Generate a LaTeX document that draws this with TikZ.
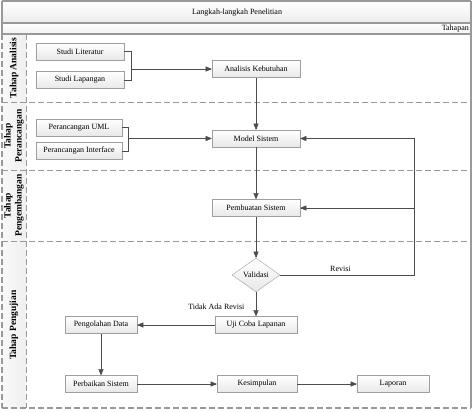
\documentclass[tikz,border=0pt]{standalone}
\usepackage{fontspec}
\setmainfont{Liberation Serif}
\usetikzlibrary{arrows}
\usetikzlibrary{shapes.geometric, positioning, calc}

\tikzset{
  stepbox/.style={rectangle, draw=gray!75, top color=white, bottom color=gray!18,
    minimum height=17pt, inner sep=1pt, font=\fontsize{8}{9}\selectfont},
  decisionbox/.style={diamond, draw=gray!75, top color=white, bottom color=gray!18,
    aspect=1.4, minimum width=48pt, minimum height=34pt, inner sep=0pt, font=\fontsize{8}{9}\selectfont},
  lanelabel/.style={rotate=90, align=center, font=\bfseries\fontsize{9.5}{11}\selectfont},
  flow/.style={draw=black!70, -triangle 45},
  lanesep/.style={draw=gray!80, dashed, dash pattern=on 6pt off 3pt, line width=0.8pt},
  smalltext/.style={font=\fontsize{8}{9}\selectfont}
}

\begin{document}
\begin{tikzpicture}[x=1pt, y=-1pt]
      \useasboundingbox (0, 0) rectangle (474, 412);

      % frame and header
      \fill[left color=gray!5, right color=gray!12] (2, 34) rectangle (26, 408);
      \shade[top color=white, bottom color=gray!15] (2, 1) rectangle (471, 23);
      \shade[top color=white, bottom color=gray!10] (2, 23) rectangle (471, 34);
      \draw[gray!80, line width=1.2pt] (2, 1) -- (471, 1);
      \draw[gray!80, line width=1.2pt] (2, 23) -- (471, 23);
      \draw[gray!80, line width=1.2pt] (2, 34) -- (471, 34);
      \draw[gray!80, line width=1.2pt] (471, 1) -- (471, 408);
      \draw[gray!80, line width=1.2pt] (2, 1) -- (2, 34);
      \draw[lanesep, line width=1.5pt] (2, 34) -- (2, 408);
      \draw[lanesep, line width=1.2pt] (2, 408) -- (471, 408);
      \draw[lanesep] (26, 34) -- (26, 408);
      \draw[lanesep] (2, 102) -- (471, 102);
      \draw[lanesep] (2, 170) -- (471, 170);
      \draw[lanesep] (2, 241) -- (471, 241);

      \node[smalltext] (title) at (237, 12.5) {Langkah-langkah Penelitian};
      \node[smalltext, anchor=east, inner sep=1pt] (tahapan) at (470, 29) {Tahapan};

      % lane labels
      \node[lanelabel] (lane1) at (14, 68) {Tahap Analisis};
      \node[lanelabel] (lane2) at (14, 136) {Tahap\\Perancangan};
      \node[lanelabel] (lane3) at (14, 205.5) {Tahap\\Pengembangan};
      \node[lanelabel] (lane4) at (14, 325) {Tahap Pengujian};

      % steps
      \node[stepbox, minimum width=88pt] (lit) at (80, 51.5) {Studi Literatur};
      \node[stepbox, minimum width=88pt] (lap) at (80, 80) {Studi Lapangan};
      \node[stepbox, minimum width=88pt] (ana) at (256, 69) {Analisis Kebutuhan};
      \node[stepbox, minimum width=86pt] (uml) at (79, 127.5) {Perancangan UML};
      \node[stepbox, minimum width=86pt] (intf) at (79, 151) {Perancangan Interface};
      \node[stepbox, minimum width=88pt] (model) at (256, 138.5) {Model Sistem};
      \node[stepbox, minimum width=88pt] (buat) at (256, 208) {Pembuatan Sistem};
      \node[decisionbox] (valid) at (256, 275) {Validasi};
      \node[stepbox, minimum width=82pt] (uji) at (256, 325) {Uji Coba Lapanan};
      \node[stepbox, minimum width=72pt] (olah) at (101, 325) {Pengolahan Data};
      \node[stepbox, minimum width=72pt] (baik) at (101, 384) {Perbaikan Sistem};
      \node[stepbox, minimum width=80pt] (simpul) at (257, 384) {Kesimpulan};
      \node[stepbox, minimum width=72pt] (lapor) at (393, 384) {Laporan};

      % brackets
      \coordinate (b1) at (131, 69);
      \coordinate (b2) at (128, 138.5);
      \draw[black!70] (lit.east) -| (b1 |- lap.east) -- (lap.east);
      \draw[flow] (b1) -- (ana.west);
      \draw[black!70] (uml.east) -| (b2 |- intf.east) -- (intf.east);
      \draw[flow] (b2) -- (model.west);

      % main flow
      \draw[flow] (ana) -- (model);
      \draw[flow] (model) -- (buat);
      \draw[flow] (buat) -- (valid);
      \draw[flow] (valid) -- (uji) node[smalltext, pos=0.6, left=8pt] {Tidak Ada Revisi};
      \draw[flow] (uji) -- (olah);
      \draw[flow] (olah) -- (baik);
      \draw[flow] (baik) -- (simpul);
      \draw[flow] (simpul) -- (lapor);

      % revision loop
      \coordinate (r1) at (414, 275);
      \draw[flow] (valid.east) -- node[smalltext, above, pos=0.45] {Revisi} (r1) |- (model.east);
      \draw[flow] (r1 |- buat.east) -- (buat.east);

    \end{tikzpicture}
\end{document}
